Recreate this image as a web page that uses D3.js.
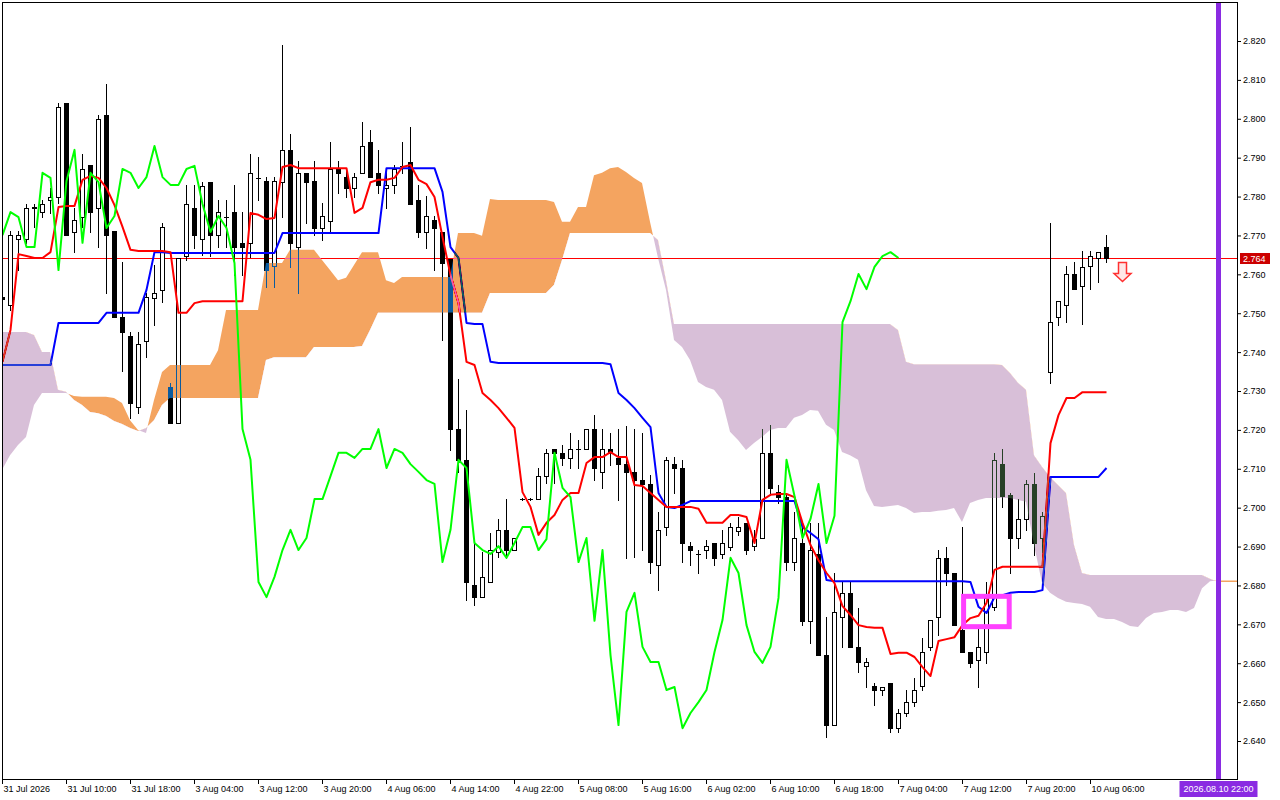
<!DOCTYPE html>
<html>
<head>
<meta charset="utf-8">
<script src="https://cdnjs.cloudflare.com/ajax/libs/d3/7.8.5/d3.min.js"></script>
<style>
body { margin: 0; background: #fff; }
svg { display: block; }
.axis text { font-family: Tahoma, "Liberation Sans", Arial, sans-serif; font-size: 9px; fill: #000; }
.axis line { stroke: #000; }
</style>
</head>
<body>
<svg id="chart" width="1280" height="800"></svg>
<script>
// H1 bars, index 0 = first visible bar
var opens = [2.7542,2.7521,2.7691,2.7691,2.7771,2.7760,2.7791,2.7799,2.8041,2.7709,
  2.7747,2.7881,2.7771,2.8010,2.7711,2.7490,2.7441,2.7259,2.7429,2.7539,
  2.7560,2.7310,2.7218,2.7647,2.7771,2.7691,2.7837,2.7701,2.7747,2.7760,
  2.7681,2.7681,2.7848,2.7840,2.7621,2.7837,2.7920,2.7670,2.7861,2.7840,
  2.7719,2.7737,2.7871,2.7850,2.7822,2.7861,2.7940,2.7861,2.7822,2.7830,
  2.7879,2.7889,2.7791,2.7709,2.7740,2.7709,2.7639,2.7202,2.7123,2.6801,
  2.6770,2.6809,2.6886,2.6943,2.6891,2.7022,2.7022,2.7022,2.7081,2.7151,
  2.7141,2.7128,2.7151,2.7151,2.7202,2.7092,2.7151,2.7128,2.7112,2.7092,
  2.7071,2.7061,2.6853,2.6950,2.7112,2.7102,2.6901,2.6881,2.6891,2.6909,
  2.6881,2.6899,2.6940,2.6961,2.6901,2.6922,2.7141,2.7040,2.7027,2.6860,
  2.6909,2.6709,2.6881,2.6621,2.6441,2.6719,2.6781,2.6642,2.6593,2.6541,
  2.6531,2.6549,2.6433,2.6472,2.6500,2.6541,2.6642,2.6719,2.6871,2.6832,
  2.6685,2.6629,2.6608,2.6629,2.6745,2.7112,2.7033,2.6922,2.6971,2.7061,
  2.6922,2.7349,2.7490,2.7521,2.7601,2.7570,2.7621,2.7642,2.7670];
var highs = [2.7545,2.7711,2.7711,2.7781,2.7781,2.7791,2.7822,2.8041,2.8041,2.7771,
  2.7909,2.7881,2.8010,2.8089,2.7711,2.7632,2.7452,2.7452,2.7552,2.7624,
  2.7732,2.7321,2.7642,2.7830,2.7830,2.7837,2.7837,2.7791,2.7791,2.7830,
  2.7760,2.7909,2.7902,2.7850,2.7850,2.8190,2.7961,2.7891,2.7861,2.7891,
  2.7783,2.7940,2.7891,2.7871,2.7861,2.7992,2.7971,2.7920,2.7868,2.7881,
  2.7940,2.7979,2.7830,2.7801,2.7750,2.7709,2.7639,2.7331,2.7251,2.6909,
  2.6886,2.6935,2.6971,2.7022,2.6922,2.7025,2.7025,2.7102,2.7151,2.7151,
  2.7161,2.7192,2.7174,2.7202,2.7238,2.7202,2.7192,2.7202,2.7210,2.7202,
  2.7192,2.7084,2.6989,2.7130,2.7130,2.7123,2.6912,2.6891,2.6917,2.6909,
  2.6943,2.6961,2.6976,2.6961,2.6943,2.7202,2.7213,2.7058,2.7038,2.6989,
  2.6961,2.6961,2.6961,2.6719,2.6832,2.6809,2.6809,2.6742,2.6613,2.6549,
  2.6539,2.6549,2.6482,2.6531,2.6562,2.6665,2.6711,2.6891,2.6899,2.6832,
  2.6950,2.6629,2.6698,2.6809,2.7141,2.7151,2.7038,2.7022,2.7071,2.7089,
  2.6989,2.7732,2.7531,2.7621,2.7632,2.7660,2.7660,2.7657,2.7701];
var lows = [2.7533,2.7508,2.7611,2.7681,2.7722,2.7747,2.7758,2.7783,2.7701,2.7657,
  2.7722,2.7709,2.7670,2.7552,2.7490,2.7351,2.7231,2.7243,2.7387,2.7470,
  2.7529,2.7218,2.7218,2.7637,2.7668,2.7650,2.7647,2.7670,2.7670,2.7598,
  2.7598,2.7645,2.7791,2.7567,2.7567,2.7747,2.7619,2.7552,2.7732,2.7701,
  2.7688,2.7706,2.7809,2.7799,2.7799,2.7861,2.7850,2.7809,2.7771,2.7809,
  2.7860,2.7781,2.7696,2.7668,2.7611,2.7431,2.7148,2.7092,2.6763,2.6750,
  2.6770,2.6809,2.6873,2.6871,2.6891,2.7019,2.7019,2.7022,2.7063,2.7063,
  2.7110,2.7102,2.7102,2.7151,2.7071,2.7051,2.7110,2.7020,2.6871,2.6873,
  2.6891,2.6832,2.6788,2.6930,2.7038,2.6860,2.6853,2.6832,2.6871,2.6853,
  2.6871,2.6891,2.6930,2.6881,2.6891,2.6922,2.7033,2.7012,2.6840,2.6840,
  2.6698,2.6652,2.6621,2.6410,2.6441,2.6642,2.6642,2.6577,2.6539,2.6493,
  2.6518,2.6423,2.6423,2.6464,2.6490,2.6531,2.6634,2.6673,2.6801,2.6698,
  2.6629,2.6590,2.6539,2.6601,2.6737,2.7002,2.6832,2.6896,2.6943,2.6878,
  2.6886,2.7321,2.7470,2.7477,2.7562,2.7472,2.7562,2.7580,2.7632];
var closes = [2.7536,2.7701,2.7701,2.7771,2.7772,2.7781,2.7799,2.8030,2.7701,2.7740,
  2.7871,2.7760,2.7999,2.7701,2.7490,2.7452,2.7269,2.7421,2.7542,2.7552,
  2.7722,2.7218,2.7642,2.7781,2.7701,2.7827,2.7701,2.7760,2.7747,2.7670,
  2.7670,2.7861,2.7848,2.7611,2.7840,2.7920,2.7681,2.7861,2.7837,2.7719,
  2.7750,2.7871,2.7861,2.7822,2.7850,2.7930,2.7850,2.7830,2.7830,2.7871,
  2.7879,2.7781,2.7709,2.7750,2.7719,2.7629,2.7202,2.7123,2.6809,2.6770,
  2.6822,2.6891,2.6943,2.6891,2.6922,2.7022,2.7022,2.7081,2.7141,2.7141,
  2.7128,2.7151,2.7151,2.7202,2.7102,2.7151,2.7141,2.7112,2.7092,2.7071,
  2.7061,2.6860,2.6943,2.7123,2.7102,2.6909,2.6891,2.6881,2.6901,2.6871,
  2.6909,2.6950,2.6950,2.6891,2.6919,2.7141,2.7051,2.7027,2.6860,2.6922,
  2.6709,2.6891,2.6621,2.6441,2.6732,2.6781,2.6642,2.6603,2.6603,2.6531,
  2.6539,2.6433,2.6472,2.6500,2.6531,2.6629,2.6711,2.6871,2.6832,2.6698,
  2.6629,2.6601,2.6642,2.6768,2.7123,2.7030,2.6922,2.6971,2.7061,2.6909,
  2.6979,2.7477,2.7531,2.7601,2.7562,2.7619,2.7647,2.7657,2.7642];

// Tenkan-sen (red) and Kijun-sen (blue), one value per bar
var tenkan = [2.7375,2.7457,2.7652,2.7647,2.7642,2.7642,2.7657,2.7773,2.7776,2.7776,
  2.7843,2.7853,2.7848,2.7822,2.7778,2.7722,2.7663,2.7660,2.7660,2.7660,
  2.7660,2.7657,2.7501,2.7501,2.7526,2.7531,2.7531,2.7531,2.7531,2.7531,
  2.7531,2.7758,2.7753,2.7742,2.7745,2.7876,2.7881,2.7873,2.7873,2.7873,
  2.7873,2.7873,2.7873,2.7873,2.7758,2.7771,2.7837,2.7843,2.7843,2.7848,
  2.7876,2.7881,2.7843,2.7832,2.7799,2.7696,2.7598,2.7526,2.7375,2.7367,
  2.7295,2.7277,2.7256,2.7231,2.7205,2.7040,2.7002,2.6930,2.6961,2.6981,
  2.7020,2.7038,2.7038,2.7115,2.7130,2.7130,2.7143,2.7130,2.7130,2.7058,
  2.7056,2.7038,2.7020,2.7002,2.7002,2.7002,2.7002,2.6997,2.6961,2.6961,
  2.6961,2.6981,2.6981,2.6976,2.6909,2.7020,2.7033,2.7035,2.7035,2.7027,
  2.6961,2.6904,2.6865,2.6832,2.6806,2.6747,2.6724,2.6698,2.6693,2.6691,
  2.6691,2.6624,2.6627,2.6627,2.6616,2.6590,2.6567,2.6657,2.6662,2.6667,
  2.6698,2.6716,2.6722,2.6755,2.6840,2.6848,2.6848,2.6848,2.6848,2.6848,
  2.6848,2.7166,2.7238,2.7282,2.7282,2.7297,2.7297,2.7297,2.7297];
var kijun = [2.7367,2.7367,2.7367,2.7367,2.7367,2.7367,2.7367,2.7475,2.7475,2.7475,
  2.7475,2.7475,2.7475,2.7501,2.7501,2.7501,2.7501,2.7501,2.7560,2.7657,
  2.7657,2.7655,2.7655,2.7655,2.7655,2.7655,2.7655,2.7655,2.7655,2.7655,
  2.7655,2.7655,2.7655,2.7655,2.7655,2.7706,2.7706,2.7706,2.7706,2.7706,
  2.7706,2.7706,2.7706,2.7706,2.7706,2.7706,2.7706,2.7706,2.7873,2.7873,
  2.7873,2.7873,2.7873,2.7873,2.7873,2.7812,2.7670,2.7642,2.7475,2.7472,
  2.7472,2.7375,2.7372,2.7372,2.7372,2.7372,2.7372,2.7372,2.7372,2.7372,
  2.7372,2.7372,2.7372,2.7372,2.7372,2.7372,2.7369,2.7295,2.7277,2.7256,
  2.7231,2.7207,2.7038,2.7002,2.6999,2.7007,2.7017,2.7017,2.7017,2.7017,
  2.7017,2.7017,2.7017,2.7017,2.7017,2.7017,2.7017,2.7017,2.7017,2.7017,
  2.6950,2.6935,2.6919,2.6814,2.6811,2.6811,2.6811,2.6811,2.6811,2.6811,
  2.6811,2.6811,2.6811,2.6811,2.6811,2.6811,2.6811,2.6811,2.6811,2.6811,
  2.6811,2.6809,2.6745,2.6729,2.6770,2.6775,2.6781,2.6783,2.6783,2.6783,
  2.6788,2.7079,2.7079,2.7079,2.7079,2.7079,2.7079,2.7079,2.7102];

// Senkou span A / B as drawn (already shifted forward), bar 0 .. 155
var spanA = [2.7097,2.7135,2.7161,2.7182,2.7264,2.7295,2.7295,2.7295,2.7295,2.7287,
  2.7285,2.7285,2.7285,2.7285,2.7282,2.7269,2.7225,2.7200,2.7192,2.7277,
  2.7349,2.7367,2.7367,2.7367,2.7367,2.7367,2.7367,2.7405,2.7508,2.7508,
  2.7508,2.7508,2.7508,2.7629,2.7629,2.7629,2.7663,2.7663,2.7663,2.7663,
  2.7637,2.7611,2.7585,2.7591,2.7624,2.7657,2.7657,2.7657,2.7585,2.7578,
  2.7593,2.7593,2.7593,2.7593,2.7593,2.7593,2.7593,2.7706,2.7706,2.7706,
  2.7699,2.7794,2.7791,2.7791,2.7791,2.7791,2.7791,2.7791,2.7791,2.7786,
  2.7735,2.7735,2.7773,2.7773,2.7855,2.7861,2.7873,2.7876,2.7863,2.7848,
  2.7835,2.7735,2.7642,2.7560,2.7431,2.7413,2.7380,2.7323,2.7310,2.7303,
  2.7277,2.7195,2.7174,2.7148,2.7166,2.7182,2.7200,2.7205,2.7205,2.7231,
  2.7238,2.7251,2.7249,2.7213,2.7200,2.7143,2.7135,2.7123,2.7045,2.7004,
  2.7002,2.7004,2.7007,2.6999,2.6986,2.6989,2.6989,2.6992,2.6994,2.6999,
  2.6963,2.7012,2.7020,2.7025,2.7025,2.7025,2.7025,2.7020,2.7015,2.6904,
  2.6806,2.6781,2.6768,2.6758,2.6755,2.6752,2.6745,2.6719,2.6714,2.6714,
  2.6706,2.6696,2.6693,2.6716,2.6729,2.6732,2.6737,2.6737,2.6732,2.6742,
  2.6793,2.6811,2.6813,2.6813,2.6813,2.6813];
var spanB = [2.7452,2.7452,2.7452,2.7452,2.7444,2.7400,2.7400,2.7303,2.7298,2.7277,
  2.7264,2.7246,2.7243,2.7236,2.7223,2.7215,2.7205,2.7197,2.7205,2.7225,
  2.7264,2.7282,2.7282,2.7282,2.7282,2.7282,2.7282,2.7282,2.7282,2.7282,
  2.7282,2.7282,2.7282,2.7380,2.7387,2.7387,2.7387,2.7387,2.7387,2.7413,
  2.7413,2.7413,2.7413,2.7413,2.7413,2.7416,2.7457,2.7501,2.7501,2.7501,
  2.7501,2.7501,2.7501,2.7501,2.7501,2.7501,2.7501,2.7501,2.7501,2.7501,
  2.7501,2.7552,2.7552,2.7552,2.7552,2.7552,2.7552,2.7552,2.7552,2.7573,
  2.7637,2.7706,2.7706,2.7706,2.7706,2.7706,2.7706,2.7706,2.7706,2.7706,
  2.7706,2.7706,2.7688,2.7585,2.7472,2.7472,2.7472,2.7472,2.7472,2.7472,
  2.7472,2.7472,2.7472,2.7472,2.7472,2.7472,2.7472,2.7472,2.7472,2.7472,
  2.7472,2.7472,2.7472,2.7472,2.7472,2.7472,2.7472,2.7472,2.7472,2.7472,
  2.7472,2.7472,2.7457,2.7375,2.7369,2.7369,2.7369,2.7369,2.7369,2.7369,
  2.7369,2.7369,2.7369,2.7369,2.7369,2.7367,2.7346,2.7321,2.7303,2.7135,
  2.7105,2.7079,2.7058,2.7038,2.6904,2.6832,2.6827,2.6827,2.6827,2.6827,
  2.6827,2.6827,2.6827,2.6827,2.6827,2.6827,2.6827,2.6827,2.6827,2.6827,
  2.6827,2.6817,2.6809,2.6809,2.6809,2.6809];
var chikouShift = 26;

var priceTicks = [2.640,2.650,2.660,2.670,2.680,2.690,2.700,2.710,2.720,2.730,
  2.740,2.750,2.760,2.770,2.780,2.790,2.800,2.810,2.820];
var timeTicks = [0,8,16,24,32,40,48,56,64,72,80,88,96,104,112,120,128,136];
var timeLabels = ['31 Jul 2026','31 Jul 10:00','31 Jul 18:00','3 Aug 04:00','3 Aug 12:00',
  '3 Aug 20:00','4 Aug 06:00','4 Aug 14:00','4 Aug 22:00','5 Aug 08:00','5 Aug 16:00',
  '6 Aug 02:00','6 Aug 10:00','6 Aug 18:00','7 Aug 04:00','7 Aug 12:00','7 Aug 20:00',
  '10 Aug 06:00'];

var bidPrice = 2.764;
var cursorBar = 152, cursorLabel = '2026.08.10 22:00';
var signalBar = 140, signalPrice = 2.7631;
var boxBars = [120.2, 125.9], boxPrices = [2.6772, 2.6694];

var svg = d3.select('#chart');
var W = +svg.attr('width'), H = +svg.attr('height');
var plotL = 2, plotT = 2, plotR = 1237, plotB = 779;

var x = d3.scaleLinear().domain([0, 154]).range([2, 2 + 8 * 154]);
var y = d3.scaleLinear().domain([2.64, 2.82]).range([741, 41]);

svg.append('rect').attr('width', W).attr('height', H).attr('fill', '#fff');

var defs = svg.append('defs');
defs.append('clipPath').attr('id', 'plotClip')
    .append('rect')
    .attr('x', plotL + 1).attr('y', plotT + 1)
    .attr('width', plotR - plotL - 1).attr('height', plotB - plotT - 1);

var cloud = spanA.map(function(a, i) { return {k: i, a: a, b: spanB[i]}; });
defs.append('clipPath').attr('id', 'aboveB')
    .append('path')
    .attr('d', d3.area().x(function(d) { return x(d.k); })
                 .y0(0).y1(function(d) { return y(d.b); })(cloud));
defs.append('clipPath').attr('id', 'belowB')
    .append('path')
    .attr('d', d3.area().x(function(d) { return x(d.k); })
                 .y0(function(d) { return y(d.b); }).y1(H)(cloud));

var plot = svg.append('g').attr('clip-path', 'url(#plotClip)');
plot.append('rect').attr('width', W).attr('height', H).attr('fill', '#fff');

// bid line
var bidY = Math.round(y(bidPrice)) - 0.5;
plot.append('line')
    .attr('x1', plotL).attr('x2', plotR)
    .attr('y1', bidY).attr('y2', bidY)
    .style('stroke', '#ff0000').style('stroke-width', 1);

// candles
var bars = d3.range(opens.length).map(function(i) {
    return {k: i, o: opens[i], h: highs[i], l: lows[i], c: closes[i]};
});
var candle = plot.append('g').attr('shape-rendering', 'crispEdges');
bars.forEach(function(d) {
    var cx = Math.round(x(d.k));
    candle.append('line')
        .attr('x1', cx + 0.5).attr('x2', cx + 0.5)
        .attr('y1', Math.round(y(d.h))).attr('y2', Math.round(y(d.l)) + 1)
        .style('stroke', '#000');
    var yTop = Math.round(y(Math.max(d.o, d.c)));
    var yBot = Math.round(y(Math.min(d.o, d.c)));
    if (yBot - yTop < 1) {
        candle.append('line')
            .attr('x1', cx - 2).attr('x2', cx + 3)
            .attr('y1', yTop + 0.5).attr('y2', yTop + 0.5)
            .style('stroke', '#000');
    } else {
        candle.append('rect')
            .attr('x', cx - 1.5).attr('y', yTop + 0.5)
            .attr('width', 4).attr('height', yBot - yTop)
            .style('fill', d.c >= d.o ? '#fff' : '#000')
            .style('stroke', '#000');
    }
});

var lineGen = d3.line()
    .x(function(d) { return x(d.k) + 0.5; })
    .y(function(d) { return y(d.v); });

function series(arr) {
    return arr.map(function(v, i) { return {k: i, v: v}; });
}

plot.append('path')
    .attr('d', lineGen(series(kijun)))
    .style('fill', 'none').style('stroke', '#0000ff')
    .style('stroke-width', '2px').style('stroke-linejoin', 'round');
plot.append('path')
    .attr('d', lineGen(series(tenkan)))
    .style('fill', 'none').style('stroke', '#ff0000')
    .style('stroke-width', '2px').style('stroke-linejoin', 'round');

// kumo, drawn inverted + difference so it shows through like the terminal does
var between = d3.area()
    .x(function(d) { return x(d.k); })
    .y0(function(d) { return y(d.a); })
    .y1(function(d) { return y(d.b); });
var kumo = plot.append('g').style('mix-blend-mode', 'difference');
kumo.append('path')
    .attr('d', between(cloud))
    .attr('clip-path', 'url(#aboveB)')
    .style('fill', 'rgb(11,91,159)');      // sandybrown, inverted
kumo.append('path')
    .attr('d', between(cloud))
    .attr('clip-path', 'url(#belowB)')
    .style('fill', 'rgb(39,64,39)');       // thistle, inverted

// chikou span: close plotted 26 bars back
var chikou = d3.range(closes.length - chikouShift).map(function(k) {
    return {k: k, v: closes[k + chikouShift]};
});
plot.append('path')
    .attr('d', lineGen(chikou))
    .style('fill', 'none').style('stroke', '#00ff00')
    .style('stroke-width', '2px').style('stroke-linejoin', 'round');

// marked zone
plot.append('rect')
    .attr('x', x(boxBars[0])).attr('y', y(boxPrices[0]))
    .attr('width', x(boxBars[1]) - x(boxBars[0]))
    .attr('height', y(boxPrices[1]) - y(boxPrices[0]))
    .style('fill', 'none').style('stroke', '#ff40ff').style('stroke-width', 5);

// sell arrow
var ax = x(signalBar) + 0.5, ay = Math.round(y(signalPrice)) + 0.5;
plot.append('path')
    .attr('d', 'M' + (ax - 4) + ',' + ay + 'H' + (ax + 4) + 'V' + (ay + 11) +
               'H' + (ax + 8.5) + 'L' + ax + ',' + (ay + 19) + 'L' + (ax - 8.5) + ',' + (ay + 11) +
               'H' + (ax - 4) + 'Z')
    .style('fill', '#ffe6e6').style('stroke', '#ff3030').style('stroke-width', 1.5);

// time cursor
plot.append('line')
    .attr('x1', x(cursorBar) + 0.5).attr('x2', x(cursorBar) + 0.5)
    .attr('y1', plotT).attr('y2', plotB)
    .style('stroke', '#8a2be2').style('stroke-width', 5);

// frame
svg.append('rect')
    .attr('x', plotL + 0.5).attr('y', plotT + 0.5)
    .attr('width', plotR - plotL).attr('height', plotB - plotT)
    .style('fill', 'none').style('stroke', '#000').style('stroke-width', 1)
    .attr('shape-rendering', 'crispEdges');

// price axis
var yAxis = svg.append('g').attr('class', 'axis')
    .attr('transform', 'translate(' + plotR + ',0)')
    .call(d3.axisRight(y).tickValues(priceTicks).tickSize(4).tickPadding(2)
            .tickFormat(d3.format('.3f')));
yAxis.select('.domain').remove();

// time axis
var xAxis = svg.append('g').attr('class', 'axis')
    .attr('transform', 'translate(0,' + plotB + ')')
    .call(d3.axisBottom(x).tickValues(timeTicks).tickSize(5).tickPadding(2)
            .tickFormat(function(d, i) { return timeLabels[i]; }));
xAxis.select('.domain').remove();
xAxis.selectAll('text').attr('text-anchor', 'start').attr('x', 1);

// bid label
var bidLabel = svg.append('g');
bidLabel.append('rect')
    .attr('x', plotR + 3).attr('y', Math.round(y(bidPrice)) - 6)
    .attr('width', 30).attr('height', 11)
    .style('fill', '#cc0000');
bidLabel.append('text')
    .attr('x', plotR + 6).attr('y', Math.round(y(bidPrice)))
    .attr('dy', '0.35em')
    .style('font-family', 'Tahoma, "Liberation Sans", Arial, sans-serif')
    .style('font-size', '9px').style('fill', '#fff')
    .text(d3.format('.3f')(bidPrice));

// cursor time label
var curLabel = svg.append('g');
curLabel.append('rect')
    .attr('x', x(cursorBar) - 38.5).attr('y', plotB + 2)
    .attr('width', 78).attr('height', 16)
    .style('fill', '#8a2be2');
curLabel.append('text')
    .attr('x', x(cursorBar) + 0.5).attr('y', plotB + 10)
    .attr('dy', '0.35em').attr('text-anchor', 'middle')
    .style('font-family', 'Tahoma, "Liberation Sans", Arial, sans-serif')
    .style('font-size', '9px').style('fill', '#fff')
    .text(cursorLabel);
</script>
</body>
</html>
